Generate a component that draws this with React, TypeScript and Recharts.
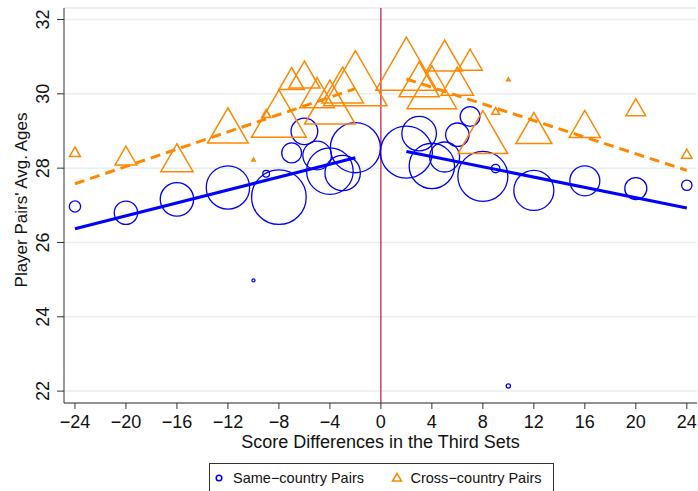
import React from "react";
import {
  ComposedChart,
  Scatter,
  XAxis,
  YAxis,
  ZAxis,
  CartesianGrid,
  ReferenceLine,
} from "recharts";

// score difference in the third set (shared by both groups)
const diffs = [-24, -20, -16, -12, -10, -9, -8, -7, -6, -5, -4, -3, -2, 2, 3, 4, 5, 6, 7, 8, 9, 10, 12, 16, 20, 24];

// same-country pairs: average age and number of matches (marker weight)
const sameAge = [26.97, 26.8, 27.16, 27.48, 24.98, 27.85, 27.22, 28.41, 28.99, 28.34, 27.92, 27.87, 28.55, 28.43, 28.93, 28.06, 28.3, 28.9, 29.39, 27.78, 27.99, 22.14, 27.4, 27.66, 27.45, 27.54];
const sameCount = [14, 61, 124, 209, 1, 5, 331, 44, 79, 91, 241, 139, 278, 300, 133, 229, 100, 61, 44, 278, 8, 2, 178, 100, 54, 12];

// cross-country pairs
const crossAge = [28.44, 28.34, 28.28, 29.15, 28.23, 29.47, 29.47, 30.41, 30.52, 30.03, 29.78, 30.24, 30.42, 30.81, 30.39, 30.18, 31.03, 30.34, 30.92, 28.97, 29.54, 30.39, 29.08, 29.19, 29.64, 28.39];
const crossCount = [10, 39, 87, 138, 1, 7, 249, 54, 81, 100, 215, 144, 336, 312, 136, 205, 107, 87, 49, 205, 5, 1, 107, 81, 32, 9];

// linear fits on each side of zero
const sameFitLeft = [{ x: -24, y: 26.37 }, { x: -2, y: 28.28 }];
const sameFitRight = [{ x: 2, y: 28.45 }, { x: 24, y: 26.93 }];
const crossFitLeft = [{ x: -24, y: 27.58 }, { x: -2, y: 30.14 }];
const crossFitRight = [{ x: 2, y: 30.4 }, { x: 24, y: 27.94 }];

const xTicks = [-24, -20, -16, -12, -8, -4, 0, 4, 8, 12, 16, 20, 24];
const yTicks = [22, 24, 26, 28, 30, 32];

const sameData = diffs.map((x, i) => ({ x, y: sameAge[i], n: sameCount[i] }));
const crossData = diffs.map((x, i) => ({ x, y: crossAge[i], n: crossCount[i] }));

const BLUE = "#0000ff";
const ORANGE = "#ff8800";
const FONT = "'Liberation Sans', Arial, sans-serif";

const radiusOf = (p: any) =>
  p.size != null && !isNaN(p.size) ? Math.sqrt(p.size / Math.PI) : p.width / 2;

const Ring = (p: any) => (
  <circle cx={p.cx} cy={p.cy} r={radiusOf(p)} fill="none" stroke={BLUE} strokeWidth={1.3} />
);

const Tri = (p: any) => {
  const r = radiusOf(p);
  const hw = r * 1.155;
  const pts = `${p.cx},${p.cy - r} ${p.cx - hw},${p.cy + r} ${p.cx + hw},${p.cy + r}`;
  return <polygon points={pts} fill="none" stroke={ORANGE} strokeWidth={1.5} strokeLinejoin="miter" />;
};

const Nothing = () => <g />;

const fmt = (v: number) => (v < 0 ? "\u2212" + Math.abs(v) : String(v));

const XTick = (p: any) => (
  <text x={p.x} y={p.y + 17} textAnchor="middle" fontSize={18} fontFamily={FONT} fill="#111">
    {fmt(p.payload.value)}
  </text>
);

const YTick = (p: any) => (
  <text
    x={49}
    y={p.y}
    transform={`rotate(-90 49 ${p.y})`}
    textAnchor="middle"
    fontSize={18}
    fontFamily={FONT}
    fill="#111"
  >
    {p.payload.value}
  </text>
);

export default function App() {
  return (
    <div style={{ position: "absolute", left: 0, top: 0, width: 698, height: 491 }}>
      <ComposedChart width={698} height={491} margin={{ top: 8, right: 1, bottom: 0, left: 0 }}>
        <CartesianGrid vertical={false} stroke="#e6eef1" strokeWidth={1.5} />
        <XAxis
          type="number"
          dataKey="x"
          domain={[-24.86, 24.8]}
          ticks={xTicks}
          allowDataOverflow
          height={88}
          tickSize={6}
          axisLine={{ stroke: "#333" }}
          tickLine={{ stroke: "#333" }}
          tick={<XTick />}
        />
        <YAxis
          type="number"
          dataKey="y"
          domain={[21.68, 32.31]}
          ticks={yTicks}
          allowDataOverflow
          width={64}
          tickSize={7}
          axisLine={{ stroke: "#333" }}
          tickLine={{ stroke: "#333" }}
          tick={<YTick />}
        />
        <ZAxis type="number" dataKey="n" domain={[0, 400]} range={[0, 400 * Math.PI * 2.25]} />
        <ReferenceLine x={0} stroke="#c0163a" strokeWidth={1.2} />
        <Scatter data={sameData} shape={<Ring />} isAnimationActive={false} />
        <Scatter data={crossData} shape={<Tri />} isAnimationActive={false} />
        <Scatter data={sameFitLeft} shape={<Nothing />} line={{ stroke: BLUE, strokeWidth: 3 }} isAnimationActive={false} />
        <Scatter data={sameFitRight} shape={<Nothing />} line={{ stroke: BLUE, strokeWidth: 3 }} isAnimationActive={false} />
        <Scatter
          data={crossFitLeft}
          shape={<Nothing />}
          line={{ stroke: ORANGE, strokeWidth: 3, strokeDasharray: "10 6" }}
          isAnimationActive={false}
        />
        <Scatter
          data={crossFitRight}
          shape={<Nothing />}
          line={{ stroke: ORANGE, strokeWidth: 3, strokeDasharray: "10 6" }}
          isAnimationActive={false}
        />
      </ComposedChart>
      <svg
        width={698}
        height={491}
        style={{ position: "absolute", left: 0, top: 0, pointerEvents: "none" }}
        fontFamily={FONT}
      >
        <text x={380.5} y={448} textAnchor="middle" fontSize={18} fill="#111">
          Score Differences in the Third Sets
        </text>
        <text x={27} y={200} transform="rotate(-90 27 200)" textAnchor="middle" fontSize={17} fill="#111">
          Player Pairs' Avg. Ages
        </text>
        <rect x={209.5} y={463.5} width={344} height={40} fill="#fff" stroke="#333" strokeWidth={1} />
        <circle cx={219} cy={478} r={2.8} fill="none" stroke={BLUE} strokeWidth={1.5} />
        <text x={233} y={483} fontSize={14.5} fill="#111">
          Same{"\u2212"}country Pairs
        </text>
        <polygon points="397,473.5 392.5,481 401.5,481" fill="none" stroke={ORANGE} strokeWidth={1.5} />
        <text x={410.5} y={483} fontSize={14.5} fill="#111">
          Cross{"\u2212"}country Pairs
        </text>
      </svg>
    </div>
  );
}
